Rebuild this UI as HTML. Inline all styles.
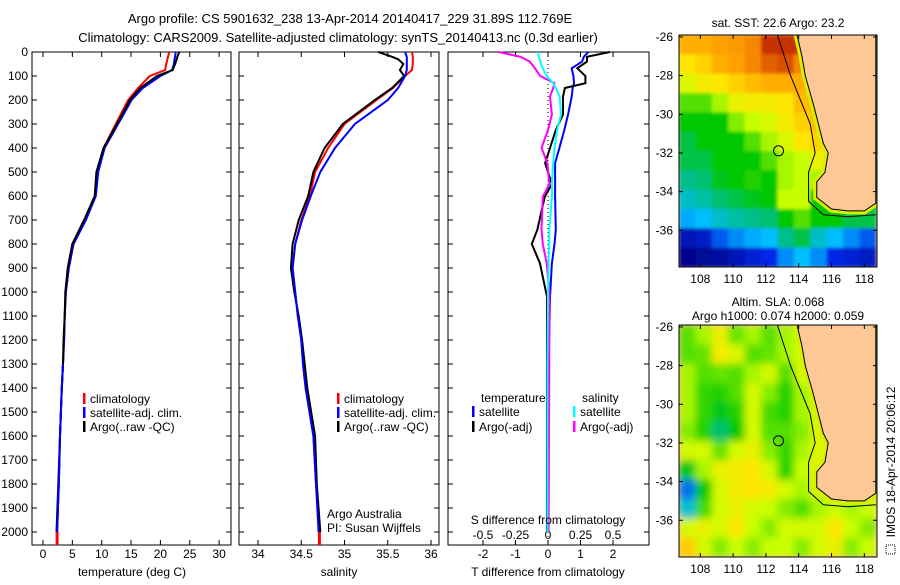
<!DOCTYPE html>
<html><head><meta charset="utf-8"><style>
body{margin:0;background:#fff}
svg{font-family:"Liberation Sans",sans-serif;font-size:12px}
</style></head><body>
<svg id="c" width="900" height="580" viewBox="0 0 900 580" xmlns="http://www.w3.org/2000/svg">
<defs>
<filter id="blurS" x="-5%" y="-5%" width="110%" height="110%"><feGaussianBlur stdDeviation="1.5"/></filter>
<filter id="blurL" x="-5%" y="-5%" width="110%" height="110%"><feGaussianBlur stdDeviation="4"/></filter>
<clipPath id="clipTop"><rect x="679" y="35" width="198" height="232"/></clipPath>
<clipPath id="clipBot"><rect x="679" y="325" width="198" height="232"/></clipPath>
</defs>
<text x="350" y="23" text-anchor="middle" font-size="13">Argo profile: CS 5901632_238 13-Apr-2014 20140417_229 31.89S 112.769E</text>
<text x="338" y="42" text-anchor="middle" font-size="13">Climatology: CARS2009. Satellite-adjusted climatology: synTS_20140413.nc (0.3d earlier)</text>
<g id="g"></g>
<rect x="886" y="545" width="9" height="9" fill="none" stroke="#000" stroke-dasharray="1,1"/>
<text transform="translate(895,462) rotate(-90)" text-anchor="middle">IMOS 18-Apr-2014 20:06:12</text>
</svg>
<script>
// ---- profile data ----
const depths=[0,20,30,50,75,100,150,200,300,400,500,600,700,800,900,1000,1100,1200,1300,1400,1600,1800,2000];
const tClim=[21.5,21.3,21.2,21.0,20.8,18.2,16.2,14.5,12.4,10.3,9.2,8.9,7.2,5.2,4.4,3.9,3.7,3.6,3.4,3.2,2.9,2.7,2.4];
const tSat=[22.6,22.5,22.4,22.3,22.0,20.0,17.0,15.1,12.8,10.5,9.4,9.0,7.3,5.2,4.4,3.9,3.7,3.6,3.4,3.2,2.9,2.7,2.4];
const tArgo=[23.2,22.9,22.8,22.5,22.1,19.4,16.6,14.8,12.6,10.3,9.1,8.8,7.0,5.0,4.2,3.8,3.7,3.5,3.4,3.2,2.9,2.6,2.3];
const sClim=[35.78,35.79,35.79,35.79,35.78,35.70,35.56,35.37,35.0,34.81,34.66,34.60,34.50,34.43,34.40,34.43,34.46,34.50,34.52,34.55,34.64,34.67,34.71];
const sSat=[35.70,35.72,35.72,35.72,35.72,35.70,35.62,35.50,35.12,34.89,34.72,34.61,34.51,34.43,34.40,34.43,34.46,34.50,34.52,34.55,34.64,34.67,34.70];
const sArgo=[35.39,35.55,35.62,35.68,35.64,35.69,35.55,35.35,34.98,34.77,34.64,34.58,34.47,34.40,34.38,34.42,34.47,34.51,34.54,34.57,34.66,34.68,34.72];
const dDepths=[0,20,40,68,100,130,150,186,260,325,400,463,550,603,741,800,880,1000,1019,1300,2000];
const dtSat=[1.24,1.1,1.05,0.73,0.78,0.8,0.76,0.73,0.62,0.5,0.35,0.22,0.22,0.22,0.24,0.2,0.12,0.07,0.06,0.02,0.0];
const dtArgo=[1.9,1.2,1.2,0.9,1.15,1.15,0.52,0.46,0.46,0.24,0.06,-0.09,0.12,-0.1,-0.33,-0.5,-0.25,-0.06,-0.03,-0.03,-0.03];
const dsSat=[-0.077,-0.07,-0.06,-0.04,-0.01,0.04,0.06,0.09,0.10,0.07,0.05,0.04,0.03,0.03,0.01,0.01,0.005,0.0,0.0,-0.005,-0.005];
const dsArgo=[-0.38,-0.21,-0.14,-0.1,-0.06,0.05,0.04,0.015,0.03,0.0,-0.05,-0.005,0.01,-0.04,-0.05,-0.04,-0.01,0.01,0.01,0.01,0.005];
const depthTicks=[0,100,200,300,400,500,600,700,800,900,1000,1100,1200,1300,1400,1500,1600,1700,1800,1900,2000];
const tTicks=[0,5,10,15,20,25,30];
const sTicks=[34,34.5,35,35.5,36];
const dsTicks=[-0.5,-0.25,0,0.25,0.5];
const dtTicks=[-2,-1,0,1,2];
// ---- map data (1-degree cells, rows lat -26.5..-37.5, cols lon 107..118; -1 = land) ----
const lonTicks=[108,110,112,114,116,118];
const latTicks=[-26,-28,-30,-32,-34,-36];
const sst=[
[.80,.80,.82,.83,.85,.95,.95,-1,-1,-1,-1,-1],
[.72,.75,.80,.82,.85,.90,.92,.85,-1,-1,-1,-1],
[.65,.70,.72,.75,.78,.80,.80,.80,-1,-1,-1,-1],
[.55,.55,.60,.68,.70,.70,.72,.78,-1,-1,-1,-1],
[.50,.50,.50,.58,.62,.65,.70,.75,.78,-1,-1,-1],
[.45,.50,.50,.50,.55,.60,.65,.72,.75,-1,-1,-1],
[.45,.45,.50,.50,.50,.55,.60,.62,.68,-1,-1,-1],
[.40,.42,.48,.50,.52,.50,.60,.62,.60,-1,-1,-1],
[.35,.38,.42,.45,.48,.50,.62,.62,.50,-1,-1,-1],
[.28,.30,.35,.38,.40,.42,.50,.55,.50,.50,.45,.45],
[.08,.10,.20,.25,.28,.30,.40,.45,.35,.30,.25,.20],
[.02,.03,.05,.08,.12,.15,.25,.30,.25,.15,.12,.10]];
const sla=[
[.55,.60,.68,.56,.60,.55,.60,.62,-1,-1,-1,-1],
[.55,.56,.70,.65,.55,.56,.60,.64,-1,-1,-1,-1],
[.60,.55,.56,.55,.60,.64,.55,.64,-1,-1,-1,-1],
[.60,.53,.52,.55,.64,.58,.52,.60,.62,-1,-1,-1],
[.60,.53,.48,.52,.64,.54,.52,.60,.64,-1,-1,-1],
[.58,.52,.42,.50,.64,.55,.55,.58,.66,-1,-1,-1],
[.64,.64,.56,.64,.68,.58,.53,.60,.66,-1,-1,-1],
[.48,.60,.68,.70,.72,.64,.52,.62,.66,-1,-1,-1],
[.22,.50,.64,.70,.72,.70,.64,.60,.64,-1,-1,-1],
[.34,.54,.64,.68,.64,.62,.58,.55,.60,.62,.60,.62],
[.64,.68,.64,.72,.62,.58,.64,.64,.64,.72,.62,.58],
[.76,.64,.58,.62,.58,.62,.62,.58,.64,.68,.58,.62]];
const landLon=[113.9,114.2,114.4,114.9,115.2,115.5,115.8,115.6,115.1,115.1,116,117,118,118.7,118.7];
const landLat=[-25.9,-27,-28,-29.5,-30.5,-31.5,-32,-33,-33.5,-34.3,-34.9,-35,-35,-34.6,-25.9];
const isoLon=[112.7,113.5,114.7,115.0,114.6,114.6,115.5,117,118.7];
const isoLat=[-25.9,-28,-30.5,-32,-33,-34.5,-35.2,-35.3,-35.2];
const argoLon=112.769, argoLat=-31.89;

const NS='http://www.w3.org/2000/svg', G=document.getElementById('g');
function mk(t,a,p){const e=document.createElementNS(NS,t);for(const k in a)e.setAttribute(k,a[k]);(p||G).appendChild(e);return e;}
const Y=d=>52+d*0.24;
function line(x1,y1,x2,y2,p){return mk('line',{x1,y1,x2,y2,stroke:'#000','stroke-width':1},p);}
function txt(x,y,s,anchor,p){const e=mk('text',{x,y,'text-anchor':anchor||'middle'},p);e.textContent=s;return e;}
function panel(x0,x1,name){const r=mk('rect',{x:x0,y:52,width:x1-x0,height:493,fill:'none',stroke:'#000','stroke-width':1});
 depthTicks.forEach(d=>{line(x0,Y(d),x0+5,Y(d));line(x1-5,Y(d),x1,Y(d));});}
function series(xs,ds,X,color,name,w){const pts=xs.map((v,i)=>X(v).toFixed(1)+','+Y(ds[i]).toFixed(1)).join(' ');
 const e=mk('polyline',{points:pts,fill:'none',stroke:color,'stroke-width':w||2});}
function legend(x,y,color,label,name){const g=mk('g',{});
 mk('rect',{x:x,y:y-10,width:2.5,height:11,fill:color},g);txt(x+7,y,label,'start',g);}

// Panel 1: temperature
const XT=v=>43+v*5.87;
panel(32,231,'temperature-panel');
depthTicks.forEach(d=>txt(28,Y(d)+4,String(d),'end'));
tTicks.forEach(v=>{line(XT(v),52,XT(v),57);line(XT(v),540,XT(v),545);txt(XT(v),558,String(v));});
txt(132,576,'temperature (deg C)');
series(tClim,depths,XT,'#f00','temp-climatology-line');
series(tSat,depths,XT,'#00f','temp-satellite-line');
series(tArgo,depths,XT,'#000','temp-argo-line');
series(tSat.slice(-5),depths.slice(-5),XT,'#00f','temp-satellite-deep-line');
mk('rect',{x:XT(tClim[tClim.length-1])-1.5,y:Y(2000),width:3,height:13,fill:'#f00'});
legend(83,403,'#f00','climatology','legend-climatology');
legend(83,417,'#00f','satellite-adj. clim.','legend-satellite');
legend(83,431,'#000','Argo(..raw -QC)','legend-argo');

// Panel 2: salinity
const XS=v=>258+(v-34)*86.5;
panel(239,439,'salinity-panel');
sTicks.forEach(v=>{line(XS(v),52,XS(v),57);line(XS(v),540,XS(v),545);txt(XS(v),558,String(v));});
txt(339,576,'salinity');
series(sClim,depths,XS,'#f00','sal-climatology-line');
series(sArgo,depths,XS,'#000','sal-argo-line');
series(sSat,depths,XS,'#00f','sal-satellite-line');
mk('rect',{x:XS(sClim[sClim.length-1])-1.5,y:Y(2000),width:3,height:13,fill:'#f00'});
legend(337,403,'#f00','climatology','legend-climatology-2');
legend(337,417,'#00f','satellite-adj. clim.','legend-satellite-2');
legend(337,431,'#000','Argo(..raw -QC)','legend-argo-2');
txt(327,518,'Argo Australia','start');
txt(327,532,'PI: Susan Wijffels','start');

// Panel 3: differences
const XD=v=>548+v*130, XDT=v=>548+v*32.5;
panel(448,649,'difference-panel');
mk('line',{x1:548,y1:52,x2:548,y2:545,stroke:'#000','stroke-dasharray':'1,3','stroke-width':1});
dtTicks.forEach(v=>{line(XDT(v),540,XDT(v),545);txt(XDT(v),558,String(v));});
dsTicks.forEach(v=>{line(XD(v),52,XD(v),57);txt(XD(v),539,String(v));});
series(dtSat,dDepths,XDT,'#00f','tdiff-satellite-line');
series(dtArgo,dDepths,XDT,'#000','tdiff-argo-line');
series(dsArgo,dDepths,XD,'#f0f','sdiff-argo-line');
series(dsSat,dDepths,XD,'#0ff','sdiff-satellite-line');
txt(548,524,'S difference from climatology');
txt(548,576,'T difference from climatology');
txt(481,402,'temperature','start');
legend(472,416,'#00f','satellite','legend-t-satellite');
legend(472,431,'#000','Argo(-adj)','legend-t-argo');
txt(582,402,'salinity','start');
legend(573,416,'#0ff','satellite','legend-s-satellite');
legend(573,431,'#f0f','Argo(-adj)','legend-s-argo');

// Maps
const stops=[[0,[0,0,128]],[.15,[0,40,230]],[.3,[0,190,255]],[.4,[0,190,140]],[.5,[0,200,0]],[.62,[200,255,0]],[.72,[255,230,0]],[.82,[255,160,0]],[.92,[220,80,0]],[1,[160,0,0]]];
function cmap(v){for(let i=1;i<stops.length;i++){if(v<=stops[i][0]){const a=stops[i-1],b=stops[i],t=(v-a[0])/(b[0]-a[0]);return 'rgb('+a[1].map((c,k)=>Math.round(c+(b[1][k]-c)*t)).join(',')+')';}}return 'rgb(160,0,0)';}
function map(y0,y1,data,name,title1,title2,clip,blur){
 const x0=679,x1=877,LX=v=>679+(v-106.7)*16.4,LY=v=>y0+(-25.9-v)*(y1-y0)/12;
 const g=mk('g',{});
 mk('rect',{x:x0,y:y0,width:x1-x0,height:y1-y0,fill:'#fdc896'},g);
 const cg=mk('g',{'clip-path':'url(#'+clip+')'},g);
 const bg=mk('g',{filter:'url(#'+blur+')'},cg);
 data.forEach((row,r)=>row.forEach((v,c)=>{
  const vv=v<0?row.filter(q=>q>=0).slice(-1)[0]:v;
  const cell=mk('rect',{x:LX(106.7+c).toFixed(1),y:LY(-25.9-r).toFixed(1),width:16.9,height:((y1-y0)/12+0.5).toFixed(1),fill:cmap(vv)},bg);
  
  }));
 const lp=landLon.map((v,i)=>LX(v)+','+LY(landLat[i])).join(' ');
 mk('polygon',{points:lp,fill:'none',stroke:'#d8f000','stroke-width':7},cg);
 const land=mk('polygon',{points:lp,fill:'#fdc896',stroke:'#000','stroke-width':1},cg);
 
 mk('polyline',{points:isoLon.map((v,i)=>LX(v)+','+LY(isoLat[i])).join(' '),fill:'none',stroke:'#000','stroke-width':1},cg);
 mk('circle',{cx:LX(argoLon),cy:LY(argoLat),r:5,fill:'none',stroke:'#000'},g);
 mk('rect',{x:x0,y:y0,width:x1-x0,height:y1-y0,fill:'none',stroke:'#000'},g);
 lonTicks.forEach(v=>{line(LX(v),y0,LX(v),y0+4,g);line(LX(v),y1-4,LX(v),y1,g);txt(LX(v),y1+16,String(v),'middle',g);});
 latTicks.forEach(v=>{line(x0,LY(v),x0+4,LY(v),g);line(x1-4,LY(v),x1,LY(v),g);txt(673,LY(v)+4,String(v),'end',g);});
 if(title2){txt(778,y0-19,title1,'middle',g);txt(778,y0-5,title2,'middle',g);}else txt(778,y0-8,title1,'middle',g);
}
map(35,267,sst,'sst-map','sat. SST: 22.6 Argo: 23.2',null,'clipTop','blurS');
map(325,557,sla,'sla-map','Altim. SLA: 0.068','Argo h1000: 0.074 h2000: 0.059','clipBot','blurL');
</script>
</body></html>
